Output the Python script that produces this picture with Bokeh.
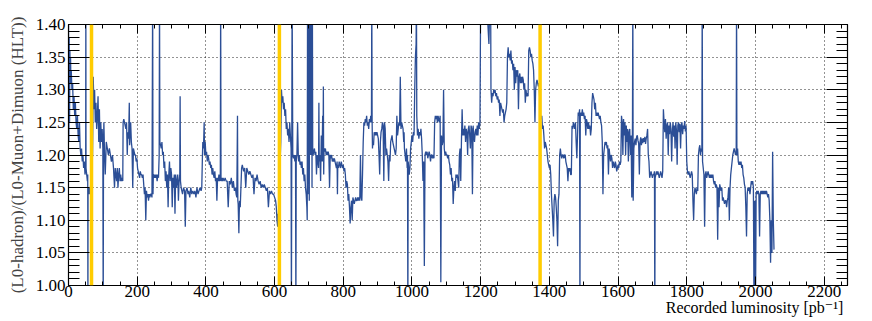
from bokeh.plotting import figure
from bokeh.models import (Range1d, FixedTicker, LinearAxis, PrintfTickFormatter,
                          CustomJSTickFormatter, Span, Label)
from bokeh.embed import file_html
from bokeh.resources import INLINE

# ---- data: recorded luminosity [pb^-1] vs trigger ratio, read per fill block ----
lumi_a = [0, 1, 2, 3, 4, 5, 6, 7, 8, 10, 12, 14, 16, 18, 20, 22, 24, 26, 28, 30, 32, 34, 36, 38, 40,
          42, 44, 46, 48, 50, 50.5, 51, 53, 55, 56, 56.5, 57, 59, 61, 63, 65]
ratio_a = [1.40, 1.22, 1.38, 1.25, 1.36, 1.33, 1.35, 1.31, 1.33, 1.30, 1.31, 1.27, 1.29, 1.26, 1.28, 1.25,
           1.24, 1.26, 1.23, 1.22, 1.25, 1.21, 1.20, 1.21, 1.19, 1.20, 1.18, 1.19, 1.17, 1.18, 1.45, 1.18,
           1.17, 1.16, 1.17, 0.95, 1.15, 1.14, 1.15, 1.14, 1.16]

lumi_b = [70, 72, 74, 76, 78, 80, 82, 84, 86, 88, 90, 92, 94, 96, 98, 100, 101, 102, 103, 105, 107, 110,
          113, 116, 119, 122, 125, 128, 131, 134, 136, 138, 140, 142, 144, 146, 148, 150, 152, 154, 156, 158]
ratio_b = [1.20, 1.32, 1.27, 1.30, 1.25, 1.28, 1.24, 1.26, 1.29, 1.22, 1.27, 1.21, 1.25, 1.22, 1.24, 1.21,
           0.95, 1.22, 1.25, 1.20, 1.17, 1.22, 1.21, 1.20, 1.21, 1.20, 1.19, 1.20, 1.18, 1.15, 1.18, 1.17,
           1.16, 1.18, 1.15, 1.17, 1.18, 1.16, 1.17, 1.16, 1.165, 1.16]

lumi_c = [159, 161, 163, 165, 167, 169, 171, 173, 175, 177, 178, 179, 181, 183, 185, 187, 189, 191, 193,
          195, 197, 199, 201, 203, 205, 207, 209, 211, 213, 215, 217, 219, 221, 223, 225, 227, 229, 231,
          233, 235, 237, 239, 241, 243, 245, 246, 247]
ratio_c = [1.25, 1.255, 1.25, 1.245, 1.24, 1.25, 1.20, 1.235, 1.225, 1.28, 1.215, 1.23, 1.25, 1.22, 1.21,
           1.15, 1.21, 1.205, 1.20, 1.20, 1.19, 1.195, 1.18, 1.175, 1.17, 1.165, 1.175, 1.17, 1.17, 1.165,
           1.17, 1.155, 1.14, 1.15, 1.10, 1.145, 1.135, 1.14, 1.13, 1.14, 1.135, 1.14, 1.14, 1.135, 1.45,
           1.14, 1.17]

lumi_d = [248, 250, 252, 254, 256, 258, 260, 262, 264, 265, 266, 268, 270, 272, 274, 276, 278, 280, 282,
          284, 286, 288, 290, 292, 294, 296, 298, 300, 302, 304, 306, 308, 310, 312, 314, 316, 318, 320,
          322, 324, 325, 326, 328, 330]
ratio_d = [1.17, 1.165, 1.17, 1.165, 1.17, 1.16, 1.17, 1.165, 1.20, 1.45, 1.22, 1.215, 1.21, 1.22, 1.20,
           1.205, 1.18, 1.19, 1.16, 1.175, 1.15, 1.17, 1.12, 1.17, 1.19, 1.16, 1.18, 1.17, 1.12, 1.165,
           1.15, 1.17, 1.11, 1.17, 1.15, 1.16, 1.17, 1.13, 1.16, 1.17, 1.29, 1.16, 1.15, 1.145]

lumi_e = [332, 335, 338, 340, 342, 345, 348, 350, 353, 356, 359, 362, 365, 368, 371, 374, 377, 380, 383,
          386, 388]
ratio_e = [1.14, 1.15, 1.145, 1.09, 1.145, 1.15, 1.14, 1.145, 1.135, 1.15, 1.14, 1.145, 1.14, 1.145,
           1.135, 1.15, 1.14, 1.145, 1.15, 1.145, 1.15]

lumi_f = [390, 391, 393, 395, 396, 398, 400, 402, 404, 406, 408, 410, 412, 414, 416, 418, 420, 422, 424,
          426, 428, 430, 432, 434, 436, 438, 440, 442, 443, 444, 446, 448, 450, 453, 456, 459, 462, 465,
          468, 471, 474, 477, 480, 483, 486, 488, 490, 492, 493, 494, 496, 497, 498, 500, 502]
ratio_f = [1.20, 1.22, 1.21, 1.25, 1.20, 1.22, 1.20, 1.205, 1.19, 1.20, 1.195, 1.185, 1.19, 1.18, 1.185,
           1.17, 1.18, 1.17, 1.165, 1.175, 1.16, 1.165, 1.13, 1.165, 1.16, 1.17, 1.16, 1.165, 1.45, 1.16,
           1.165, 1.16, 1.165, 1.16, 1.165, 1.16, 1.16, 1.12, 1.16, 1.155, 1.165, 1.15, 1.16, 1.145, 1.15,
           1.14, 1.135, 1.26, 1.13, 1.125, 1.08, 1.11, 1.13, 1.12, 1.15]

lumi_g = [504, 506, 508, 510, 513, 516, 519, 522, 525, 528, 531, 534, 537, 540, 543, 546, 549, 552, 555,
          558, 561, 564, 567, 570, 573, 576, 579, 582, 585, 588, 591, 594, 597, 600, 603, 605, 607, 609,
          610, 611, 612]
ratio_g = [1.18, 1.185, 1.18, 1.175, 1.18, 1.15, 1.18, 1.175, 1.17, 1.175, 1.17, 1.165, 1.17, 1.14,
           1.165, 1.16, 1.17, 1.16, 1.155, 1.16, 1.15, 1.155, 1.15, 1.155, 1.15, 1.145, 1.15, 1.12, 1.145,
           1.14, 1.145, 1.14, 1.14, 1.135, 1.13, 1.12, 1.10, 1.09, 1.11, 1.10, 1.12]

lumi_h = [618, 620, 622, 624, 626, 628, 630, 632, 634, 636, 638, 640, 642, 644, 646, 648, 649, 650, 651,
          653, 655, 657, 659, 661, 662, 663, 665, 667, 669, 670, 672, 674, 676, 678, 680, 682, 684, 686,
          688, 690, 692, 694, 695]
ratio_h = [1.22, 1.30, 1.28, 1.29, 1.27, 1.28, 1.26, 1.27, 1.24, 1.25, 1.23, 1.24, 1.22, 1.25, 1.23, 1.21,
           0.95, 1.20, 1.45, 1.20, 1.195, 1.20, 1.19, 1.20, 0.95, 1.19, 1.20, 1.25, 1.20, 1.19, 1.20,
           1.185, 1.19, 1.18, 1.19, 1.17, 1.18, 1.16, 1.17, 1.15, 1.14, 1.12, 1.10]

lumi_i = [696, 697, 698, 699, 700, 701, 702, 703, 704, 705, 706, 707, 708, 709, 710, 711, 712, 714, 716,
          718, 720, 722, 724, 726, 728, 729, 730, 732, 734, 736, 738, 740, 741, 742, 743, 744, 746, 748,
          750, 752, 754, 756, 758, 760, 762, 764, 766, 768, 770, 772, 774, 776, 778, 780]
ratio_i = [1.45, 1.14, 1.45, 1.18, 1.45, 1.13, 1.45, 1.21, 1.45, 1.20, 1.45, 1.21, 1.45, 1.15, 1.45,
           1.21, 1.20, 1.205, 1.21, 1.20, 1.205, 1.17, 1.20, 1.19, 1.18, 1.28, 1.19, 1.20, 1.16, 1.23,
           1.19, 1.26, 1.19, 1.305, 1.17, 1.21, 1.205, 1.21, 1.20, 1.205, 1.20, 1.205, 1.20, 1.15, 1.20,
           1.195, 1.20, 1.19, 1.195, 1.19, 1.195, 1.19, 1.185, 1.18]

lumi_j = [782, 783, 784, 786, 788, 790, 792, 794, 796, 798, 800, 802, 804, 806, 808, 810, 812, 814, 816,
          818, 820, 822, 824, 826, 828, 830, 832, 834, 836, 838, 840, 842, 844, 846, 848, 850, 852, 854]
ratio_j = [1.19, 1.14, 1.185, 1.18, 1.19, 1.185, 1.18, 1.19, 1.185, 1.18, 1.185, 1.175, 1.18, 1.17, 1.15,
           1.16, 1.155, 1.13, 1.14, 1.12, 1.095, 1.12, 1.13, 1.10, 1.135, 1.13, 1.125, 1.13, 1.135, 1.13,
           1.13, 1.135, 1.13, 1.135, 1.13, 1.20, 1.135, 1.13]

lumi_k = [856, 858, 860, 862, 864, 866, 868, 870, 872, 874, 876, 878, 880, 882, 883, 884, 885, 886, 888,
          890, 892, 894, 896, 898, 900, 902, 904, 906, 908, 910, 912, 914, 916, 918, 920, 922, 924, 926,
          928, 930, 932, 934, 936, 938, 940, 942, 944, 946, 948, 950, 952, 954, 956, 958, 960, 962, 964,
          966, 968, 970, 972, 974, 975, 976, 977, 978, 980, 982, 984, 986, 987, 988, 989, 992]
ratio_k = [1.17, 1.22, 1.25, 1.245, 1.255, 1.25, 1.26, 1.245, 1.25, 1.24, 1.255, 1.25, 1.26, 1.25, 1.45,
           1.25, 1.21, 1.22, 1.215, 1.235, 1.23, 1.235, 1.23, 1.235, 1.23, 1.225, 1.20, 1.17, 1.22, 1.235,
           1.24, 1.25, 1.245, 1.16, 1.25, 1.24, 1.20, 1.21, 1.20, 1.19, 1.16, 1.20, 1.19, 1.22, 1.225,
           1.23, 1.22, 1.215, 1.21, 1.205, 1.20, 1.21, 1.26, 1.23, 1.24, 1.25, 1.245, 1.32, 1.24, 1.25,
           1.245, 1.24, 1.23, 1.22, 1.235, 1.21, 1.20, 1.19, 1.21, 1.18, 1.20, 0.95, 1.19, 1.17]

lumi_l = [994, 996, 998, 1000, 1002, 1004, 1006, 1008, 1010, 1012, 1013, 1014, 1016, 1018, 1020, 1022,
          1024, 1026, 1028, 1030, 1032, 1034, 1036, 1038, 1040, 1042, 1044, 1046, 1048, 1050, 1052, 1054,
          1056, 1058, 1060, 1062, 1064, 1066, 1068, 1070, 1072, 1074, 1076, 1078, 1080, 1082, 1084, 1086,
          1088, 1090, 1092, 1094, 1096, 1098, 1100, 1102, 1104, 1106, 1108, 1110, 1112, 1114, 1116, 1118,
          1120, 1122, 1124, 1126, 1128, 1130, 1132, 1134, 1136, 1138, 1140, 1142, 1144, 1146, 1148, 1150,
          1152, 1154, 1156, 1158, 1160, 1162, 1164, 1166, 1168, 1170, 1172, 1174, 1176, 1178, 1180, 1182,
          1184, 1186, 1188, 1190, 1192, 1194, 1196, 1198, 1200]
ratio_l = [1.18, 1.21, 1.22, 1.23, 1.22, 1.235, 1.23, 1.30, 1.35, 1.37, 1.45, 1.26, 1.23, 1.24, 1.225,
           1.235, 1.23, 1.24, 1.225, 1.20, 1.16, 1.19, 1.03, 1.20, 1.205, 1.20, 1.205, 1.195, 1.20, 1.205,
           1.20, 1.19, 1.20, 1.20, 1.195, 1.20, 1.195, 1.25, 1.26, 1.255, 1.26, 1.25, 1.26, 1.255, 1.25,
           1.26, 1.005, 1.23, 1.215, 1.22, 1.30, 1.21, 1.20, 1.205, 1.20, 1.20, 1.195, 1.20, 1.19, 1.185,
           1.17, 1.18, 1.16, 1.165, 1.125, 1.15, 1.16, 1.145, 1.17, 1.165, 1.17, 1.16, 1.15, 1.20, 1.21,
           1.16, 1.22, 1.27, 1.23, 1.24, 1.23, 1.245, 1.22, 1.24, 1.235, 1.20, 1.24, 1.245, 1.23, 1.21,
           1.245, 1.24, 1.14, 1.245, 1.23, 1.22, 1.235, 1.24, 1.23, 1.245, 1.23, 1.25, 1.24, 1.25, 1.45]

lumi_m = [1202, 1210, 1215, 1220, 1224, 1226, 1229, 1230, 1232, 1234, 1236, 1238, 1240, 1242, 1244, 1246,
          1248, 1250, 1252, 1254, 1256, 1258, 1260, 1262, 1264, 1266, 1268, 1270, 1272, 1274, 1276, 1278,
          1280, 1282, 1284, 1286, 1288, 1290, 1292, 1294, 1296, 1298, 1300, 1302, 1304, 1306, 1308, 1310,
          1312, 1314, 1316, 1318, 1320, 1322, 1324, 1326, 1328, 1330, 1332, 1334, 1336, 1338, 1340, 1342,
          1344, 1346, 1348, 1350, 1352, 1354, 1356, 1358, 1360, 1362, 1364, 1366, 1368, 1370]
ratio_m = [1.45, 1.42, 1.43, 1.41, 1.37, 1.42, 1.45, 1.30, 1.28, 1.295, 1.29, 1.30, 1.295, 1.30, 1.29,
           1.295, 1.285, 1.29, 1.28, 1.285, 1.26, 1.28, 1.275, 1.27, 1.265, 1.27, 1.25, 1.26, 1.265, 1.27,
           1.28, 1.35, 1.365, 1.35, 1.355, 1.345, 1.36, 1.34, 1.345, 1.33, 1.34, 1.30, 1.335, 1.31, 1.33,
           1.32, 1.33, 1.27, 1.32, 1.325, 1.31, 1.32, 1.31, 1.32, 1.315, 1.30, 1.31, 1.28, 1.30, 1.29,
           1.295, 1.29, 1.36, 1.365, 1.36, 1.35, 1.355, 1.345, 1.34, 1.33, 1.30, 1.25, 1.30, 1.31, 1.315,
           1.31, 1.305, 1.31]

lumi_n = [1374, 1376, 1378, 1380, 1382, 1384, 1386, 1388, 1390, 1392, 1394, 1396, 1398, 1400, 1402, 1404,
          1406, 1408, 1410, 1412, 1414, 1416, 1418, 1420, 1422, 1424, 1426, 1428, 1430, 1432, 1434, 1436,
          1438, 1440, 1442, 1444, 1446, 1448, 1450, 1452, 1454, 1456, 1458, 1460, 1462, 1464]
ratio_n = [1.26, 1.255, 1.26, 1.24, 1.245, 1.23, 1.21, 1.22, 1.215, 1.21, 1.20, 1.19, 1.185, 1.18, 1.185,
           1.17, 1.14, 1.12, 1.10, 1.075, 1.13, 1.14, 1.135, 1.12, 1.10, 1.06, 1.13, 1.14, 1.20, 1.21,
           1.20, 1.195, 1.20, 1.20, 1.195, 1.20, 1.20, 1.19, 1.185, 1.18, 1.16, 1.18, 1.175, 1.18, 1.17,
           1.17]

lumi_o = [1466, 1468, 1470, 1472, 1474, 1476, 1478, 1480, 1482, 1484, 1486, 1488, 1489, 1490, 1492, 1494,
          1496, 1498, 1500, 1502, 1504, 1506, 1508, 1510, 1512, 1514, 1516, 1518, 1520, 1522, 1524, 1526,
          1528, 1530, 1532, 1534, 1536, 1538, 1540, 1542, 1544, 1546, 1548, 1550, 1552, 1554, 1556, 1558]
ratio_o = [1.245, 1.24, 1.25, 1.245, 1.24, 1.25, 1.22, 1.195, 1.23, 1.265, 1.26, 1.27, 0.95, 1.26, 1.265,
           1.26, 1.27, 1.26, 1.265, 1.255, 1.26, 1.23, 1.255, 1.25, 1.24, 1.25, 1.24, 1.245, 1.23, 1.24,
           1.28, 1.295, 1.29, 1.285, 1.27, 1.28, 1.26, 1.265, 1.26, 1.265, 1.26, 1.255, 1.26, 1.25, 1.245,
           1.22, 1.14, 1.20]

lumi_p = [1560, 1562, 1564, 1566, 1568, 1570, 1572, 1574, 1576, 1578, 1580, 1582, 1584, 1586, 1588, 1590,
          1592, 1594, 1596, 1598, 1600, 1602, 1604, 1606, 1608, 1610, 1612, 1614, 1616, 1618, 1620, 1622,
          1624, 1626, 1628, 1630, 1632, 1634, 1636, 1638, 1640, 1642, 1643, 1644, 1646, 1648, 1650, 1652,
          1654, 1656, 1658, 1660, 1662, 1664, 1666, 1668, 1670, 1672, 1674, 1676, 1678, 1680, 1682, 1684,
          1686, 1688, 1690, 1692, 1694, 1696, 1698]
ratio_p = [1.21, 1.22, 1.215, 1.22, 1.21, 1.215, 1.17, 1.21, 1.20, 1.19, 1.20, 1.195, 1.18, 1.19, 1.185,
           1.18, 1.19, 1.185, 1.175, 1.18, 1.185, 1.18, 1.19, 1.185, 1.19, 1.26, 1.25, 1.20, 1.255, 1.23,
           1.25, 1.20, 1.245, 1.22, 1.24, 1.19, 1.235, 1.24, 1.20, 1.23, 1.135, 1.25, 1.45, 1.13, 1.21,
           1.22, 1.225, 1.215, 1.228, 1.23, 1.222, 1.218, 1.17, 1.22, 1.227, 1.215, 1.225, 1.218, 1.226, 1.22,
           1.228, 1.217, 1.225, 1.23, 1.24, 1.20, 1.19, 1.165, 1.17, 1.175, 1.17]

lumi_q = [1700, 1702, 1704, 1706, 1707, 1708, 1710, 1712, 1714, 1716, 1718, 1720, 1722, 1724, 1726, 1728,
          1730, 1732, 1734, 1736, 1738, 1740, 1742, 1744, 1746, 1748, 1750, 1752, 1754, 1756, 1758, 1760,
          1762, 1764, 1766, 1768, 1770, 1772, 1774, 1776, 1778, 1780, 1782, 1784, 1786, 1788, 1790, 1792,
          1794, 1796, 1798]
ratio_q = [1.165, 1.17, 1.17, 1.175, 0.95, 1.165, 1.17, 1.175, 1.17, 1.175, 1.17, 1.165, 1.17, 1.175,
           1.17, 1.165, 1.175, 1.27, 1.25, 1.235, 1.255, 1.225, 1.245, 1.25, 1.20, 1.245, 1.232, 1.25, 1.24,
           1.19, 1.235, 1.25, 1.228, 1.245, 1.21, 1.25, 1.238, 1.185, 1.245, 1.25, 1.235, 1.248, 1.21, 1.245,
           1.25, 1.232, 1.245, 1.24, 1.252, 1.236, 1.245]

lumi_r = [1800, 1802, 1804, 1806, 1808, 1810, 1812, 1814, 1816, 1818, 1820, 1822, 1824, 1826, 1828, 1830,
          1832, 1834, 1836, 1838, 1840, 1842, 1844, 1845, 1846, 1848, 1850, 1852, 1854, 1856, 1858, 1860,
          1862, 1864, 1866, 1868, 1870, 1872, 1874, 1876, 1878, 1880, 1882, 1884, 1886, 1888, 1890, 1892,
          1894, 1896, 1898, 1900, 1902, 1904, 1906, 1908, 1910, 1912, 1914, 1916, 1918, 1920, 1922, 1924,
          1926, 1928, 1930, 1932, 1934, 1936, 1938, 1940, 1942]
ratio_r = [1.19, 1.175, 1.17, 1.175, 1.17, 1.165, 1.17, 1.175, 1.17, 1.13, 1.10, 1.14, 1.15, 1.145, 1.14,
           1.15, 1.145, 1.20, 1.21, 1.215, 1.20, 1.21, 1.205, 1.45, 1.19, 1.18, 1.17, 1.09, 1.17, 1.175,
           1.165, 1.17, 1.175, 1.17, 1.165, 1.17, 1.165, 1.17, 1.165, 1.17, 1.16, 1.155, 1.16, 1.15, 1.155,
           1.15, 1.07, 1.15, 1.12, 1.155, 1.15, 1.145, 1.15, 1.13, 1.135, 1.13, 1.125, 1.13, 1.13, 1.12,
           1.13, 1.135, 1.15, 1.10, 1.15, 1.17, 1.18, 1.19, 1.20, 1.205, 1.21, 1.205, 1.20]

lumi_s = [1944, 1945, 1946, 1948, 1950, 1952, 1954, 1956, 1958, 1960, 1962, 1964, 1966, 1968, 1970, 1972,
          1974, 1976, 1978, 1980, 1982, 1984, 1986, 1988, 1990, 1992, 1994, 1996, 1998, 2000, 2002, 2004,
          2006, 2008, 2010, 2012, 2014, 2016, 2018, 2020, 2022, 2024, 2026, 2028, 2030, 2032, 2034, 2036,
          2038, 2040, 2042, 2044, 2046, 2048, 2050, 2052, 2054]
ratio_s = [1.205, 1.45, 1.20, 1.21, 1.19, 1.185, 1.19, 1.185, 1.19, 1.18, 1.185, 1.17, 1.165, 1.155, 1.15,
           1.12, 1.075, 1.14, 1.15, 1.145, 1.15, 1.14, 1.15, 1.16, 1.155, 1.16, 1.15, 0.95, 1.13, 0.95,
           1.14, 1.145, 1.14, 1.145, 1.14, 1.075, 1.14, 1.145, 1.14, 1.145, 1.14, 1.145, 1.14, 1.145, 1.14,
           1.145, 1.14, 1.135, 1.14, 1.13, 1.10, 1.035, 1.10, 1.05, 1.205, 1.10, 1.055]

# technical-stop boundaries (yellow markers)
fill_boundaries = [67, 614, 1373]

# tick positions
x_major_ticks = [0, 200, 400, 600, 800, 1000, 1200, 1400, 1600, 1800, 2000, 2200]
y_major_ticks = [1.00, 1.05, 1.10, 1.15, 1.20, 1.25, 1.30, 1.35, 1.40]
y_minor_ticks = [round(1.0 + 0.01 * i, 2) for i in range(41)]
x_minor_ticks = [50 * i for i in range(46)]

lumi = (lumi_a + lumi_b + lumi_c + lumi_d + lumi_e + lumi_f + lumi_g + lumi_h + lumi_i + lumi_j +
        lumi_k + lumi_l + lumi_m + lumi_n + lumi_o + lumi_p + lumi_q + lumi_r + lumi_s)
ratio = (ratio_a + ratio_b + ratio_c + ratio_d + ratio_e + ratio_f + ratio_g + ratio_h + ratio_i +
         ratio_j + ratio_k + ratio_l + ratio_m + ratio_n + ratio_o + ratio_p + ratio_q + ratio_r + ratio_s)

FONT = "'Liberation Serif', 'Times New Roman', 'DejaVu Serif', serif"
BLUE = "#2b4e96"

p = figure(width=868, height=318, output_backend="svg", toolbar_location=None,
           x_range=Range1d(0, 2268), y_range=Range1d(1.0, 1.4),
           min_border_left=68, min_border_right=21, min_border_top=24, min_border_bottom=33)
p.background_fill_color = "white"
p.border_fill_color = "white"
p.outline_line_color = "black"
p.outline_line_width = 1.2

p.line(lumi, ratio, line_color=BLUE, line_width=1.3)

for xb in fill_boundaries:
    p.add_layout(Span(location=xb, dimension="height", line_color="#ffcc00", line_width=3.5))


def xticker():
    return FixedTicker(ticks=x_major_ticks, minor_ticks=x_minor_ticks)


def yticker():
    return FixedTicker(ticks=y_major_ticks, minor_ticks=y_minor_ticks)


xa = p.xaxis[0]
xa.ticker = xticker()
xa.major_tick_in = 9
xa.major_tick_out = 0
xa.minor_tick_in = 4
xa.minor_tick_out = 0
xa.major_label_standoff = 0
xa.major_label_text_font = FONT
xa.major_label_text_font_size = "17px"
xa.major_label_text_color = "black"
xa.axis_line_color = "black"

ya = p.yaxis[0]
ya.ticker = yticker()
ya.formatter = PrintfTickFormatter(format="%.2f")
ya.major_tick_in = 21
ya.major_tick_out = 0
ya.minor_tick_in = 11
ya.minor_tick_out = 0
ya.major_label_standoff = 3
ya.major_label_text_font = FONT
ya.major_label_text_font_size = "17px"
ya.major_label_text_color = "black"
ya.axis_label = "(L0-hadron)/(L0-Muon+Dimuon (HLT))"
ya.axis_label_text_font = FONT
ya.axis_label_text_font_size = "17px"
ya.axis_label_text_font_style = "normal"
ya.axis_label_standoff = 6
ya.axis_line_color = "black"

top = LinearAxis(ticker=xticker(), formatter=CustomJSTickFormatter(code="return ''"),
                 major_tick_in=9, major_tick_out=0, minor_tick_in=4, minor_tick_out=0,
                 major_label_standoff=0, axis_line_color="black")
right = LinearAxis(ticker=yticker(), formatter=CustomJSTickFormatter(code="return ''"),
                   major_tick_in=21, major_tick_out=0, minor_tick_in=11, minor_tick_out=0,
                   major_label_standoff=0, axis_line_color="black")
p.add_layout(top, "above")
p.add_layout(right, "right")

xtitle = Label(x=2256, y=1, x_units="data", y_units="screen",
               text="Recorded luminosity [pb\u207b\u00b9]", text_align="right",
               text_baseline="bottom", text_font=FONT, text_font_size="16px",
               text_color="black")
p.add_layout(xtitle, "below")

for g in (p.xgrid[0], p.ygrid[0]):
    g.grid_line_color = "black"
    g.grid_line_dash = "1 3"
    g.grid_line_width = 1
    g.grid_line_alpha = 0.85
p.xgrid[0].ticker = xticker()
p.ygrid[0].ticker = yticker()

open("out.html", "w").write(file_html(p, INLINE))
